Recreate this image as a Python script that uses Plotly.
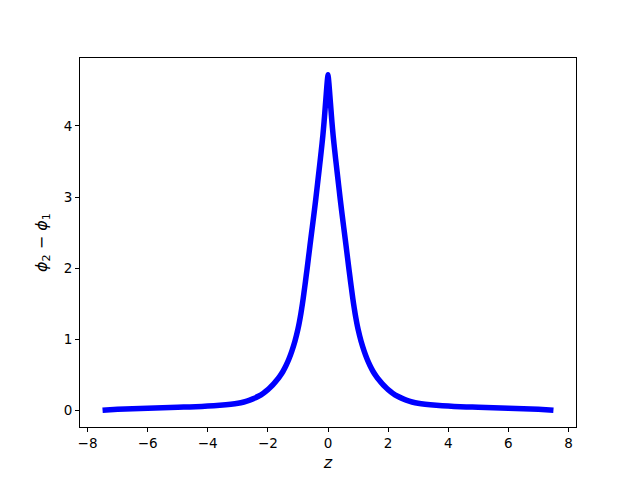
import plotly.graph_objects as go

# right half of the curve, mirrored for the left half
z_half = [0.0, 0.03, 0.06, 0.1, 0.13, 0.17, 0.2, 0.25, 0.3, 0.35, 0.4, 0.45,
          0.5, 0.55, 0.6, 0.65, 0.7, 0.75, 0.8, 0.85, 0.9, 0.95, 1.0, 1.1,
          1.2, 1.3, 1.4, 1.5, 1.6, 1.7, 1.8, 1.9, 2.0, 2.15, 2.3, 2.5, 2.7,
          2.9, 3.1, 3.4, 3.8, 4.2, 4.6, 5.0, 5.5, 6.0, 6.5, 7.0, 7.25, 7.5]
dphi_half = [4.72, 4.60, 4.44, 4.22, 4.06, 3.87, 3.745, 3.55, 3.365, 3.18,
             2.995, 2.82, 2.65, 2.485, 2.315, 2.145, 1.975, 1.81, 1.65, 1.50,
             1.365, 1.245, 1.14, 0.97, 0.835, 0.72, 0.625, 0.545, 0.48, 0.425,
             0.375, 0.33, 0.29, 0.24, 0.20, 0.16, 0.128, 0.105, 0.09, 0.076,
             0.063, 0.054, 0.047, 0.041, 0.035, 0.029, 0.022, 0.014, 0.008, 0.0]

z = [-v for v in z_half[:0:-1]] + z_half
dphi = dphi_half[:0:-1] + dphi_half

x_ticks = [-8, -6, -4, -2, 0, 2, 4, 6, 8]
y_ticks = [0, 1, 2, 3, 4]

fig = go.Figure()
fig.add_trace(go.Scatter(x=z, y=dphi, mode="lines",
                         line=dict(color="#0000ff", width=5.5, simplify=False,
                                   shape="spline", smoothing=0.5),
                         showlegend=False))

axis = dict(showline=True, linecolor="black", linewidth=1, mirror=True,
            ticks="outside", ticklen=4, tickwidth=1, tickcolor="black",
            showgrid=False, zeroline=False, automargin=False,
            tickfont=dict(family="DejaVu Sans", size=13.5, color="black"))

fig.update_layout(
    width=640, height=480,
    margin=dict(l=80, r=64, t=58, b=53),
    paper_bgcolor="white", plot_bgcolor="white",
    font=dict(family="DejaVu Sans", size=13.5, color="black"),
    xaxis=dict(axis, range=[-8.25, 8.25], tickvals=x_ticks,
               title=dict(text="<i>z</i>", standoff=6)),
    yaxis=dict(axis, range=[-0.236, 4.956], tickvals=y_ticks,
               title=dict(text="<i>ϕ</i><sub>2</sub> − <i>ϕ</i><sub>1</sub>",
                          standoff=12)),
)

fig.write_html("out.html", config={"displayModeBar": False},
               post_script="document.body.style.margin='0';")
